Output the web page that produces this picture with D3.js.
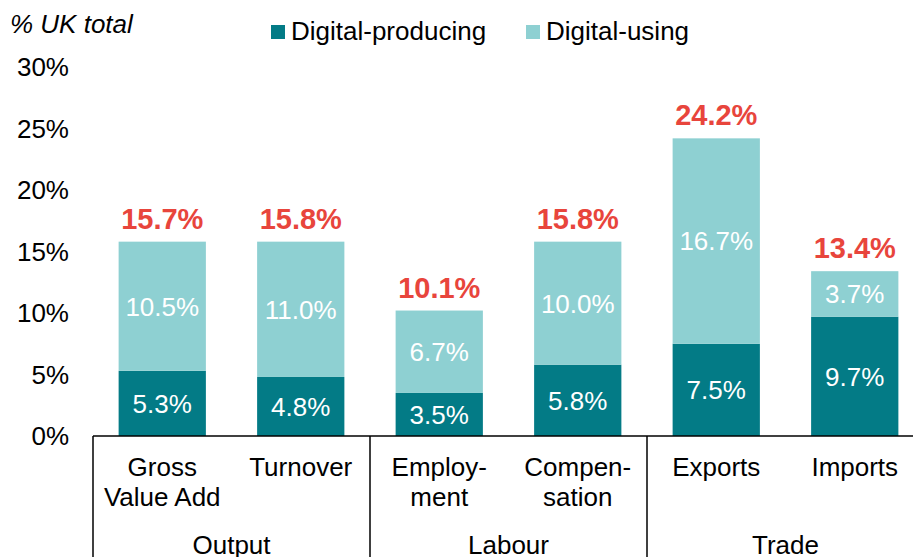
<!DOCTYPE html>
<html><head><meta charset="utf-8">
<script src="https://cdn.jsdelivr.net/npm/d3@7"></script>
<style>body{margin:0;background:#fff;}svg{display:block;font-family:"Liberation Sans",Arial,sans-serif;}</style>
</head><body>
<svg id="c" width="913" height="557"></svg>
<script>
const categories = ["Gross Value Add", "Turnover", "Employment", "Compensation", "Exports", "Imports"];
const categoryLines = [["Gross", "Value Add"], ["Turnover"], ["Employ-", "ment"], ["Compen-", "sation"], ["Exports"], ["Imports"]];
const groups = ["Output", "Labour", "Trade"];
const seriesNames = ["Digital-producing", "Digital-using"];
const digitalProducing = [5.3, 4.8, 3.5, 5.8, 7.5, 9.7];
const digitalUsing = [10.5, 11.0, 6.7, 10.0, 16.7, 3.7];
const totals = ["15.7%", "15.8%", "10.1%", "15.8%", "24.2%", "13.4%"];
const yTicks = [0, 5, 10, 15, 20, 25, 30];

(function () {
const colors = ["#037B86", "#8ED0D2"];
const svg = d3.select("#c");
const pL = 93, pR = 924, pT = 67, pB = 436;
const x = d3.scaleBand().domain(categories).range([pL, pR]).paddingInner(0.37).paddingOuter(0.185);
const y = d3.scaleLinear().domain([0, 30]).range([pB, pT]);
const fs = 26;

const rows = categories.map((c, i) => ({cat: c, p: digitalProducing[i], u: digitalUsing[i]}));
const stack = d3.stack().keys(["p", "u"])(rows);

stack.forEach((layer, li) => {
  svg.append("g").selectAll("rect").data(layer).join("rect")
    .attr("x", d => x(d.data.cat)).attr("width", x.bandwidth())
    .attr("y", d => y(d[1])).attr("height", d => y(d[0]) - y(d[1]))
    .attr("fill", colors[li]);
  svg.append("g").selectAll("text").data(layer).join("text")
    .attr("x", d => x(d.data.cat) + x.bandwidth() / 2)
    .attr("y", d => (y(d[0]) + y(d[1])) / 2)
    .attr("dy", "0.36em").attr("text-anchor", "middle")
    .attr("fill", "#fff").attr("font-size", fs)
    .text(d => d3.format(".1f")(d[1] - d[0]) + "%");
});

svg.append("g").selectAll("text").data(stack[1]).join("text")
  .attr("x", d => x(d.data.cat) + x.bandwidth() / 2)
  .attr("y", d => y(d[1]) - 13)
  .attr("text-anchor", "middle").attr("fill", "#E8453C")
  .attr("font-size", 29).attr("font-weight", "bold")
  .text((d, i) => totals[i]);

svg.append("g").selectAll("text").data(yTicks).join("text")
  .attr("x", 69).attr("y", d => y(d)).attr("dy", "0.36em")
  .attr("text-anchor", "end").attr("font-size", fs).attr("fill", "#000")
  .text(d => d + "%");

svg.append("line").attr("x1", pL).attr("x2", pR).attr("y1", pB).attr("y2", pB)
  .attr("stroke", "#000").attr("stroke-width", 1.5);
const bw = x.step();
[0, 2, 4, 6].forEach(k => {
  const xx = pL + k * bw;
  svg.append("line").attr("x1", xx).attr("x2", xx).attr("y1", pB).attr("y2", 557)
    .attr("stroke", "#000").attr("stroke-width", 1.5);
});

categories.forEach((c, i) => {
  const t = svg.append("text").attr("text-anchor", "middle").attr("font-size", fs).attr("fill", "#000");
  categoryLines[i].forEach((ln, j) => {
    t.append("tspan").attr("x", x(c) + x.bandwidth() / 2).attr("y", 476 + j * 30).text(ln);
  });
});
groups.forEach((g, k) => {
  svg.append("text").attr("x", pL + (2 * k + 1) * bw).attr("y", 554)
    .attr("text-anchor", "middle").attr("font-size", fs).attr("fill", "#000").text(g);
});

svg.append("text").attr("x", 10).attr("y", 33).attr("font-size", fs).attr("font-style", "italic").text("% UK total");

const lx = [271, 526];
seriesNames.forEach((s, i) => {
  svg.append("rect").attr("x", lx[i]).attr("y", 25).attr("width", 14).attr("height", 14).attr("fill", colors[i]);
  svg.append("text").attr("x", lx[i] + 20).attr("y", 40).attr("font-size", fs).text(s);
});
})();
</script>
</body></html>
